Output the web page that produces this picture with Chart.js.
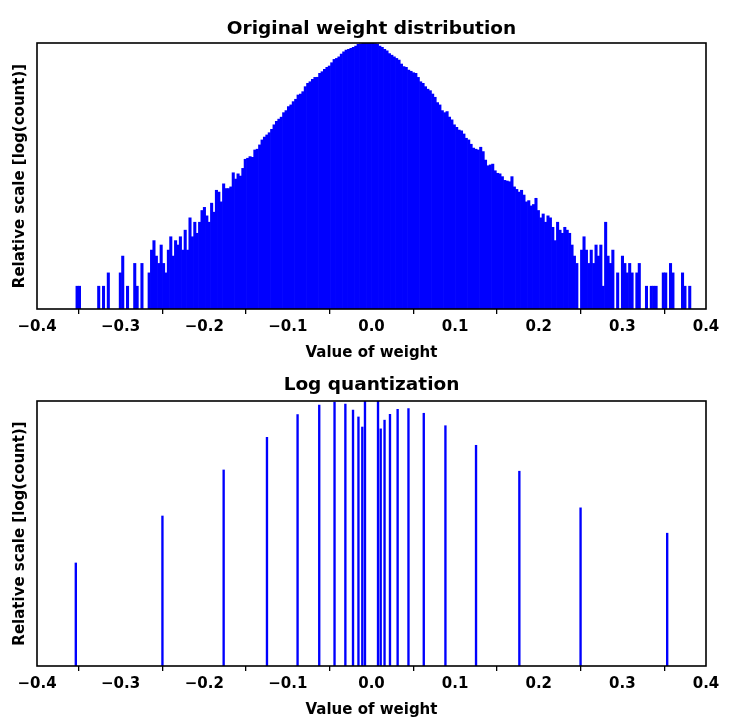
<!DOCTYPE html>
<html><head><meta charset="utf-8">
<script src="https://cdn.jsdelivr.net/npm/chart.js@4.4.0/dist/chart.umd.min.js"></script>
<style>
html,body{margin:0;padding:0;background:#fff;}
#wrap{position:relative;width:732px;height:727px;overflow:hidden;}
canvas{position:absolute;left:0;}
</style></head><body>
<div id="wrap">
<canvas id="topChart" width="732" height="370" style="top:0px;width:732px;height:370px"></canvas>
<canvas id="botChart" width="732" height="357" style="top:370px;width:732px;height:357px"></canvas>
</div>
<script>
// ---- data ----
const histRange = [-0.3535, 0.382];           // histogram bin edges (first, last)
const histCounts = [
  2,2,0,0,0,0,0,0,0,2, 0,2,0,3,0,0,0,0,3,5, 0,2,0,0,4,2,0,4,0,0,
  3,6,8,5,4,7,4,3,6,9, 5,8,7,9,6,11,6,16,9,14, 10,14,20,22,17,14,
  25,19,37,35,26,45,39,39,41,63, 52,61,57,72,95,98,103,101,126,129,
  147,171,186,199,213,236,271,300,322,342, 392,417,471,496,548,589,671,691,742,864,
  957,1004,1080,1146,1150,1296,1362,1465,1557,1620, 1790,1980,2040,2140,2330,2500,2630,2690,2770,2860,
  2970,3140,
  3180,3220,3250,3240,3260,3230,3200,3150,
  2970,2860,2690,2570,2370,2250,2140,2040,1940,1720,
  1590,1557,1430,1380,1320,1296,1146,1004,957,864,
  800,765,691,626,532,496,417,392,405,342,
  315,271,251,231,226,205,180,171,150,133,
  129,126,137,120,93,78,80,82,67,62,
  61,56,50,49,48,56,41,38,35,
  37,32,26,27,23,24,29,20,16,18,14,17,16,12,8,14,11,10,12,11,10,7,5,4,
  0,6,9,6,4,6,4,7,5,7, 2,14,5,4,6,0,3,0,5,4, 3,4,3,0,3,4,0,0,2,0,
  2,2,2,0,0,3,3,0,4,3, 0,0,0,3,2,0,2
];
const quantLevels = [-0.3536,-0.25,-0.1768,-0.125,-0.0884,-0.0625,-0.0442,-0.03125,-0.0221,-0.0156,-0.0110,-0.0078,
                      0.0078,0.0110,0.0156,0.0221,0.03125,0.0442,0.0625,0.0884,0.125,0.1768,0.25,0.3536];
const quantCounts = [47,272,1520,5140,12050,17200,19180,17900,14260,11020,7560,20000,
                     20000,7060,9780,12160,14680,15130,12650,7940,3820,1450,369,143];
const xTickValues = [-0.4,-0.3,-0.2,-0.1,0.0,0.1,0.2,0.3,0.4];
const titles = ['Original weight distribution','Log quantization'];
const xLabel = 'Value of weight';
const yLabel = 'Relative scale [log(count)]';

// ---- build ----
const FONT = "'DejaVu Sans', sans-serif";
const BLUE = '#0000ff';
function fmt(v){ if (Math.abs(v) < 1e-9) return '0.0'; return (v < 0 ? '\u2212' : '') + Math.abs(v).toFixed(1); }

// frame around the plot area + title centred over the plot area (matplotlib style)
const framePlugin = {
  id: 'frame',
  afterDraw(chart, args, opts){
    const {ctx, chartArea: a} = chart;
    ctx.save();
    ctx.strokeStyle = '#000';
    ctx.lineWidth = 1.6;
    ctx.strokeRect(a.left, a.top, a.right - a.left, a.bottom - a.top);
    ctx.fillStyle = '#000';
    ctx.font = "bold 18.5px " + FONT;
    ctx.textAlign = 'center';
    ctx.textBaseline = 'middle';
    ctx.fillText(opts.text, (a.left + a.right) / 2, a.top - opts.gap);
    ctx.restore();
  }
};

function xScale(){
  return {
    type: 'linear', min: -0.4, max: 0.4, offset: false,
    afterBuildTicks: s => { s.ticks = xTickValues.map(v => ({value: v})); },
    ticks: { font: {family: FONT, size: 15, weight: 'bold'}, color: '#000', padding: 4,
             maxRotation: 0, autoSkip: false, callback: v => fmt(v) },
    grid: { drawOnChartArea: false, drawTicks: true, tickLength: 5, color: '#000', lineWidth: 1.3 },
    border: { display: false },
    title: { display: true, text: xLabel, font: {family: FONT, size: 15, weight: 'bold', lineHeight: 1.2},
             color: '#000', padding: {top: 0, bottom: 7.8} },
    afterFit: s => { s.height = 61; }
  };
}
function yScale(maxVal){
  return {
    type: 'logarithmic', min: 1, max: maxVal,
    ticks: { display: false }, grid: { display: false }, border: { display: false },
    title: { display: true, text: yLabel, font: {family: FONT, size: 15, weight: 'bold', lineHeight: 1.2},
             color: '#000', padding: {top: 11.5, bottom: 0} },
    afterFit: s => { s.width = 37; }
  };
}
function baseOptions(title, topPad, gap, maxVal){
  return {
    responsive: false, animation: false, devicePixelRatio: 1,
    layout: { padding: {left: 0, right: 26, top: topPad, bottom: 0} },
    plugins: {
      legend: { display: false }, tooltip: { enabled: false }, title: { display: false },
      frame: { text: title, gap: gap }
    },
    scales: { x: xScale(), y: yScale(maxVal) }
  };
}

const binW = (histRange[1] - histRange[0]) / histCounts.length;
const histData = histCounts.map((c, i) => ({x: histRange[0] + (i + 0.5) * binW, y: c > 0 ? c : null}));

new Chart(document.getElementById('topChart'), {
  type: 'bar',
  data: { datasets: [{ data: histData, backgroundColor: BLUE, borderWidth: 0,
                       barPercentage: 1.0, categoryPercentage: 1.0 }] },
  options: baseOptions(titles[0], 43, 14, 3260),
  plugins: [framePlugin]
});

const quantData = quantLevels.map((x, i) => ({x: x, y: quantCounts[i]}));
new Chart(document.getElementById('botChart'), {
  type: 'bar',
  data: { datasets: [{ data: quantData, backgroundColor: BLUE, borderWidth: 0, barThickness: 1.7 }] },
  options: baseOptions(titles[1], 31, 16, 20000),
  plugins: [framePlugin]
});
</script>
</body></html>
